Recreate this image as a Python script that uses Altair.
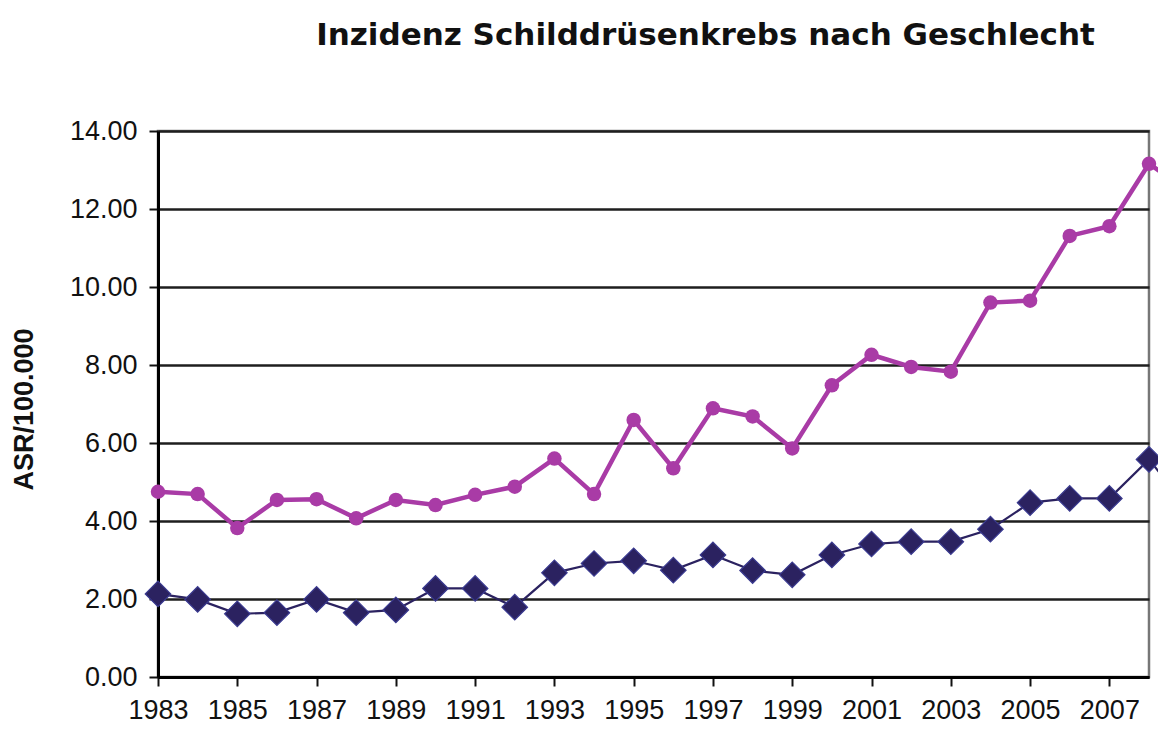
import altair as alt
import pandas as pd

years = [1983, 1984, 1985, 1986, 1987, 1988, 1989, 1990, 1991, 1992, 1993, 1994, 1995,
         1996, 1997, 1998, 1999, 2000, 2001, 2002, 2003, 2004, 2005, 2006, 2007, 2008, 2009]
frauen = [4.75, 4.69, 3.82, 4.54, 4.56, 4.07, 4.54, 4.41, 4.67, 4.88, 5.60, 4.69, 6.59,
          5.35, 6.89, 6.68, 5.86, 7.48, 8.26, 7.95, 7.83, 9.60, 9.65, 11.31, 11.56, 13.16, 12.45]
maenner = [2.13, 1.99, 1.62, 1.65, 1.99, 1.65, 1.72, 2.27, 2.27, 1.79, 2.67, 2.91, 2.98,
           2.74, 3.13, 2.73, 2.62, 3.13, 3.41, 3.47, 3.47, 3.79, 4.47, 4.58, 4.58, 5.58, 4.30]
x_label_years = [1983, 1985, 1987, 1989, 1991, 1993, 1995, 1997, 1999, 2001, 2003, 2005, 2007]
y_ticks = [0, 2, 4, 6, 8, 10, 12, 14]

PINK = "#A93BA6"
NAVY = "#2B2260"

df = pd.DataFrame({
    "Jahr": years * 2,
    "ASR": frauen + maenner,
    "Geschlecht": ["Frauen"] * len(years) + ["Männer"] * len(years),
})

x = alt.X("Jahr:Q",
          scale=alt.Scale(domain=[1983, 2008], nice=False, zero=False),
          axis=alt.Axis(values=x_label_years, format="d", title=None, grid=False,
                        tickSize=9, labelPadding=11, labelFlush=False))
y = alt.Y("ASR:Q",
          scale=alt.Scale(domain=[0, 14], nice=False),
          axis=alt.Axis(values=y_ticks, format=".2f", title="ASR/100.000", grid=True,
                        tickSize=9, labelPadding=12,
                        titleFont="Liberation Sans", titleFontSize=27, titleFontWeight="bold",
                        titleColor="#111", titleAngle=270, titleX=-120, titleY=278,
                        titleAlign="center", titleBaseline="bottom"))

base = alt.Chart(df)
f = base.transform_filter(alt.datum.Geschlecht == "Frauen")
m = base.transform_filter(alt.datum.Geschlecht == "Männer")

f_line = f.mark_line(color=PINK, strokeWidth=4.5).encode(x=x, y=y)
f_pts = f.mark_point(shape="circle", filled=True, color=PINK, size=210, opacity=1).encode(x=x, y=y)
m_line = m.mark_line(color=NAVY, strokeWidth=2.2).encode(x=x, y=y)
m_pts = m.mark_point(shape="diamond", filled=True, color=NAVY, size=650, opacity=1,
                     stroke="#3A3A90", strokeWidth=1.2).encode(x=x, y=y)

chart = alt.layer(f_line, f_pts, m_line, m_pts).properties(
    width=991, height=546,
    autosize=alt.AutoSizeParams(type="none"),
    padding={"left": 150, "top": 123, "right": 9, "bottom": 50},
    title=alt.Title("Inzidenz Schilddrüsenkrebs nach Geschlecht",
                    font="DejaVu Sans", fontSize=31, fontWeight="bold", color="#111",
                    anchor="middle", dx=52, offset=65),
).configure_view(
    stroke="#777", strokeWidth=2.5
).configure_axis(
    domainColor="#000", domainWidth=3, tickColor="#111", tickWidth=2,
    gridColor="#1e1e1e", gridWidth=2.5,
    labelFont="Liberation Sans", labelFontSize=27, labelColor="#111",
)

chart.save("out.html", embed_options={"renderer": "svg", "actions": False})
